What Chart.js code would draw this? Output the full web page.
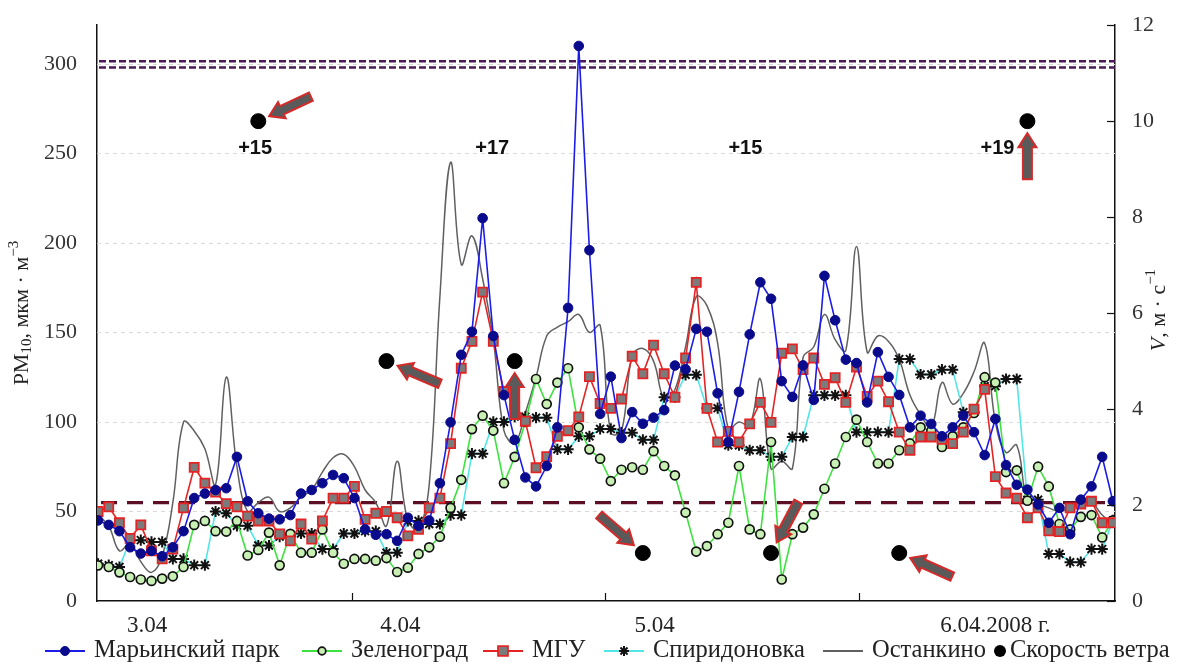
<!DOCTYPE html>
<html>
<head>
<meta charset="utf-8">
<script src="https://cdn.jsdelivr.net/npm/chart.js@4.4.1/dist/chart.umd.min.js"></script>
<style>
  html, body { margin: 0; padding: 0; background: #fff; }
  #wrap { width: 1177px; height: 666px; }
</style>
</head>
<body>
<div id="wrap"><canvas id="c" width="1177" height="666" style="width:1177px;height:666px"></canvas></div>
<script>
// hourly PM10, 3.04 - 6.04.2008
const maryino = [45, 42.5, 39, 30, 26.5, 28, 25, 30, 39, 57.5,
  60, 62, 63, 80.5, 55.7, 49, 46, 45.6, 48, 60,
  62, 65.8, 70.4, 68.6, 57.5, 40, 37, 37.3, 33.6, 46.5,
  42, 45, 65.8, 99.8, 137.5, 150.4, 213.8, 148, 115, 90,
  69, 64, 75.4, 97, 163.7, 310, 195.9, 104.5, 125.3, 91,
  105.5, 99, 102.4, 106.6, 131.5, 129.4, 152, 150.4, 116, 88.8,
  116.8, 148.9, 178, 168.8, 122.8, 114, 131.6, 112.3, 181.6, 156.8,
  134.8, 132.9, 110.9, 139, 125.2, 115.1, 97, 103.5, 98.9, 92,
  97, 103.5, 94.3, 81.5, 101.7, 75.9, 64.9, 62.2, 53.9, 43.7,
  52, 37.3, 56.6, 64, 80.5, 55.7];
const zelenograd = [19.9, 19, 16, 13.4, 12, 11.2, 12.5, 13.8, 19, 42.5,
  44.7, 39, 38.8, 44.7, 25.4, 28.5, 38.2, 19.9, 37.5, 27,
  27, 40, 27, 20.8, 23.5, 23.5, 22.5, 24, 16.2, 18.6,
  26.3, 30, 35.9, 52, 67.7, 96, 103.5, 95.2, 65.8, 80.5,
  100, 124, 110, 122, 130, 97, 84.7, 79.5, 67, 73.3,
  74.7, 73.3, 83.7, 75.4, 70.2, 49.4, 27.6, 30.7, 37.3, 43.7,
  75.4, 40, 37.3, 88.8, 12, 37.3, 41, 48.4, 62.7, 76.8,
  91.6, 101.3, 88.8, 76.8, 76.8, 84.2, 88, 97, 95, 86,
  92, 97, 105, 125, 122, 72, 73, 56, 75, 64,
  43, 40, 47, 48, 35.5, 45];
const mgu = [50, 52.6, 43.7, 35, 42.5, 28, 23.5, 29, 52, 74.6,
  65.8, 60.8, 54.4, 52.6, 47.4, 44.7, 44.7, 37.5, 33.6, 43,
  34.6, 44.7, 57.5, 57.5, 64, 45.6, 49, 50, 46.5, 36.4,
  40, 52, 57.5, 87.9, 130, 145, 172.5, 145, 117, 110,
  100.4, 74.4, 80.6, 92, 95.1, 102.8, 125.3, 110.3, 107.6, 112.8,
  136.7, 126.9, 142.9, 126.9, 113.8, 135.7, 178, 107.6, 88.8, 94.7,
  88.8, 98.9, 110.9, 99.8, 138.4, 140.8, 129.2, 135.7, 121, 124.7,
  110.9, 130.7, 114.2, 122.8, 111.3, 94.3, 84.2, 91.6, 91.6, 90.3,
  87.9, 94.3, 107.2, 118.2, 69.5, 60.3, 57.5, 46.5, 52, 39.2,
  38.8, 52, 54.2, 55.7, 43.7, 43.7];
const spiridonovka = [20.8, 20, 19, 34, 34, 33, 33, 23.5, 23.5, 20,
  20, 50, 49, 42, 42, 31, 31, 36, 36, 37.7,
  37.7, 29, 29, 37.7, 37.7, 39, 39, 27, 27, 44.7,
  44.7, 43, 43, 48, 48, 82.3, 82.3, 100, 100, 103,
  103, 102.4, 102.4, 84.7, 84.7, 92, 92, 96.1, 96.1, 94,
  94, 90, 90, 113.8, 113.8, 126.3, 126.3, 107.7, 107.7, 87,
  87, 84.2, 84.2, 80.5, 80.5, 91.6, 91.6, 114.9, 114.9, 114.9,
  114.9, 94.3, 94.3, 94.3, 94.3, 135.1, 135.1, 126.5, 126.5, 129.2,
  129.2, 105.4, 105.4, 120, 120, 124, 124, 56.6, 56.6, 26.3,
  26.3, 21.7, 21.7, 29, 29, 45];
const ostankino = [48, 42, 28, 32, 22, 16, 25, 55, 100, 95,
  85, 65, 125, 75, 50, 55, 58, 50, 52, 58,
  62, 72, 80, 82, 75, 62, 55, 42, 78, 45,
  40, 65, 170, 245, 188, 204, 180, 146, 95, 88,
  105, 125, 148, 153, 156, 160, 150, 154, 94, 95,
  137, 141, 134, 113, 118, 142, 170, 165, 144, 96,
  100, 98, 124, 74, 78, 74, 136, 142, 160, 146,
  140, 198, 139, 148, 145, 135, 115, 104, 97, 122,
  110, 116, 128, 144, 100, 83, 87, 56, 54, 52,
  50, 52, 55, 55, 48, 43];

// wind: hour index, speed (m/s), direction it blows from (deg)
const windAt = [15, 27, 39, 51, 63, 75, 87];
const windSpeed = [10, 5, 5, 1, 1, 1, 10];
const windFrom = [65, 113, 180, 311, 28, 114, 180];

// air temperature per day
const tempAt = [14.7, 36.9, 60.6, 84.2];
const temps = ['+15', '+17', '+15', '+19'];
const tempLevel = 253;

const dayLabels = ['3.04', '4.04', '5.04', '6.04.2008 г.'];
const dayLabelAt = [4.6, 28.3, 52.1, 84];
const dayBounds = [23.8, 47.5, 71.2];
const pmTicks = [0, 50, 100, 150, 200, 250, 300];
const vTicks = [0, 2, 4, 6, 8, 10, 12];
const pdkLines = [298, 301.5];
const normLine = 55;

const SERIF = '"Liberation Serif", "Times New Roman", serif';
const pts = arr => arr.map((v, i) => ({x: i, y: v}));

const decor = {
  id: 'decor',
  beforeDatasetsDraw(chart) {
    const {ctx, chartArea: a, scales: {y}} = chart;
    ctx.save();
    ctx.strokeStyle = '#d9d9d9';
    ctx.lineWidth = 1;
    ctx.setLineDash([4, 4]);
    pmTicks.slice(1).forEach(v => {
      const py = Math.round(y.getPixelForValue(v)) + 0.5;
      ctx.beginPath(); ctx.moveTo(a.left, py); ctx.lineTo(a.right, py); ctx.stroke();
    });
    ctx.strokeStyle = '#4a1a55';
    ctx.lineWidth = 2.5;
    ctx.setLineDash([7, 3]);
    pdkLines.forEach(v => {
      const py = y.getPixelForValue(v);
      ctx.beginPath(); ctx.moveTo(a.left + 2, py); ctx.lineTo(a.right, py); ctx.stroke();
    });
    ctx.strokeStyle = '#5b0e24';
    ctx.lineWidth = 3.2;
    ctx.setLineDash([16, 10]);
    const ny = y.getPixelForValue(normLine);
    ctx.beginPath(); ctx.moveTo(a.left + 4, ny); ctx.lineTo(a.right, ny); ctx.stroke();
    ctx.restore();
  },
  afterDatasetsDraw(chart) {
    const {ctx, chartArea: a, scales: {x, y, y1}} = chart;
    ctx.save();
    // wind arrows
    windAt.forEach((h, i) => {
      const px = x.getPixelForValue(h), py = y1.getPixelForValue(windSpeed[i]);
      const r = windFrom[i] * Math.PI / 180;
      const ux = Math.sin(r), uy = -Math.cos(r);
      const gap = 12, len = 46;
      ctx.save();
      ctx.translate(px + ux * gap, py + uy * gap);
      ctx.rotate(Math.atan2(uy, ux));
      ctx.beginPath();
      ctx.moveTo(0, 0);
      ctx.lineTo(14, -9);
      ctx.lineTo(14, -4.5);
      ctx.lineTo(len, -4.5);
      ctx.lineTo(len, 4.5);
      ctx.lineTo(14, 4.5);
      ctx.lineTo(14, 9);
      ctx.closePath();
      ctx.fillStyle = '#5a5a5a';
      ctx.fill();
      ctx.strokeStyle = '#d42a2a';
      ctx.lineWidth = 2;
      ctx.stroke();
      ctx.restore();
    });
    // temperatures
    ctx.fillStyle = '#111';
    ctx.font = 'bold 20px "Liberation Sans", Arial, sans-serif';
    ctx.textAlign = 'center';
    ctx.textBaseline = 'middle';
    temps.forEach((t, i) => ctx.fillText(t, x.getPixelForValue(tempAt[i]), y.getPixelForValue(tempLevel)));
    // inward tick marks
    ctx.strokeStyle = '#111';
    ctx.lineWidth = 1.2;
    vTicks.forEach(v => {
      const py = Math.round(y1.getPixelForValue(v)) + 0.5;
      ctx.beginPath(); ctx.moveTo(a.right, py); ctx.lineTo(a.right - 8, py); ctx.stroke();
    });
    dayBounds.forEach(v => {
      const px = Math.round(x.getPixelForValue(v)) + 0.5;
      ctx.beginPath(); ctx.moveTo(px, a.bottom); ctx.lineTo(px, a.bottom - 8); ctx.stroke();
    });
    ctx.restore();
  },
  afterDraw(chart) {
    const {ctx, chartArea: a} = chart;
    const rich = (parts, cx, cy) => {
      ctx.save();
      ctx.translate(cx, cy);
      ctx.rotate(-Math.PI / 2);
      ctx.fillStyle = '#222';
      ctx.textBaseline = 'middle';
      ctx.textAlign = 'left';
      const font = p => (p.it ? 'italic ' : '') + p.s + 'px ' + SERIF;
      let w = 0;
      parts.forEach(p => { ctx.font = font(p); p.w = ctx.measureText(p.t).width; w += p.w; });
      let xx = -w / 2;
      parts.forEach(p => { ctx.font = font(p); ctx.fillText(p.t, xx, p.dy || 0); xx += p.w; });
      ctx.restore();
    };
    rich([{t: 'PM', s: 22}, {t: '10', s: 15, dy: 5}, {t: ', мкм · м', s: 22}, {t: '−3', s: 15, dy: -8}],
      22, (a.top + a.bottom) / 2);
    rich([{t: 'V', s: 22, it: true}, {t: ', м · с', s: 22}, {t: '−1', s: 15, dy: -8}],
      1159, (a.top + a.bottom) / 2 - 3);

    // legend: sample line with marker, then label
    const lx = [45, 302, 483, 604, 823, 998];
    const ly = 651;
    ctx.save();
    ctx.textBaseline = 'middle';
    ctx.textAlign = 'left';
    ctx.font = '24.5px ' + SERIF;
    chart.data.datasets.forEach((d, i) => {
      const x0 = lx[i];
      let tx;
      if (d.showLine === false) {
        ctx.fillStyle = '#000';
        ctx.beginPath(); ctx.arc(x0 + 2, ly, 6, 0, Math.PI * 2); ctx.fill();
        tx = x0 + 12;
      } else {
        ctx.strokeStyle = d.borderColor;
        ctx.lineWidth = 2;
        ctx.beginPath(); ctx.moveTo(x0, ly); ctx.lineTo(x0 + 40, ly); ctx.stroke();
        if (d.pointRadius > 0) {
          ctx.fillStyle = d.pointBackgroundColor;
          ctx.strokeStyle = d.pointBorderColor;
          ctx.lineWidth = d.pointBorderWidth;
          Chart.helpers.drawPoint(ctx, {pointStyle: d.pointStyle, radius: d.legendRadius, borderWidth: d.pointBorderWidth, rotation: 0}, x0 + 20, ly);
        }
        tx = x0 + 49;
      }
      ctx.fillStyle = '#222';
      ctx.fillText(d.label, tx, ly);
    });
    ctx.restore();
  }
};

new Chart(document.getElementById('c'), {
  type: 'line',
  data: {
    datasets: [
      {label: 'Марьинский парк', data: pts(maryino), borderColor: '#1c1ce8', borderWidth: 1.6,
        pointStyle: 'circle', pointRadius: 4.8, legendRadius: 4.5, pointBackgroundColor: '#0a0a8c',
        pointBorderColor: '#0a0a8c', pointBorderWidth: 1, tension: 0, order: 3},
      {label: 'Зеленоград', data: pts(zelenograd), borderColor: '#3ee23e', borderWidth: 1.6,
        pointStyle: 'circle', pointRadius: 4.5, legendRadius: 3.8, pointBackgroundColor: '#c8efb4',
        pointBorderColor: '#111', pointBorderWidth: 1.7, tension: 0, order: 5},
      {label: 'МГУ', data: pts(mgu), borderColor: '#e42424', borderWidth: 1.6,
        pointStyle: 'rect', pointRadius: 6.4, legendRadius: 7, pointBackgroundColor: '#7b7b7b',
        pointBorderColor: '#e42424', pointBorderWidth: 1.8, tension: 0, order: 4},
      {label: 'Спиридоновка', data: pts(spiridonovka), borderColor: '#52e6e6', borderWidth: 1.6,
        pointStyle: 'star', pointRadius: 5.6, legendRadius: 5, pointBackgroundColor: '#111',
        pointBorderColor: '#111', pointBorderWidth: 2, tension: 0, order: 6},
      {label: 'Останкино', data: pts(ostankino), borderColor: '#606060', borderWidth: 1.5,
        pointRadius: 0, tension: 0.4, order: 7},
      {label: 'Скорость ветра', data: windAt.map((h, i) => ({x: h, y: windSpeed[i]})), yAxisID: 'y1',
        showLine: false, pointRadius: 7.5, pointBackgroundColor: '#000', pointBorderColor: '#000', order: 0}
    ]
  },
  options: {
    responsive: false,
    animation: false,
    devicePixelRatio: 1,
    layout: {padding: {top: 18, left: 0, right: 0, bottom: 0}},
    plugins: {legend: {display: false}, tooltip: {enabled: false}},
    scales: {
      x: {
        type: 'linear', min: -0.1, max: 95.2,
        grid: {display: false},
        border: {display: true, color: '#111', width: 1.5},
        afterBuildTicks: s => { s.ticks = dayLabelAt.map(v => ({value: v})); },
        ticks: {callback: (v, i) => dayLabels[i], font: {family: SERIF, size: 23}, color: '#222',
          padding: 3, maxRotation: 0, autoSkip: false},
        afterFit: s => { s.height = 65; }
      },
      y: {
        position: 'left', min: 0, max: 321.6,
        grid: {display: false},
        border: {display: true, color: '#111', width: 1.5},
        afterBuildTicks: s => { s.ticks = pmTicks.map(v => ({value: v})); },
        ticks: {font: {family: SERIF, size: 22}, color: '#333', padding: 12},
        afterFit: s => { s.width = 97; }
      },
      y1: {
        position: 'right', min: 0, max: 12,
        grid: {display: false},
        border: {display: true, color: '#111', width: 1.5},
        afterBuildTicks: s => { s.ticks = vTicks.map(v => ({value: v})); },
        ticks: {font: {family: SERIF, size: 22}, color: '#333', padding: 9},
        afterFit: s => { s.width = 62; }
      }
    }
  },
  plugins: [decor]
});
</script>
</body>
</html>
